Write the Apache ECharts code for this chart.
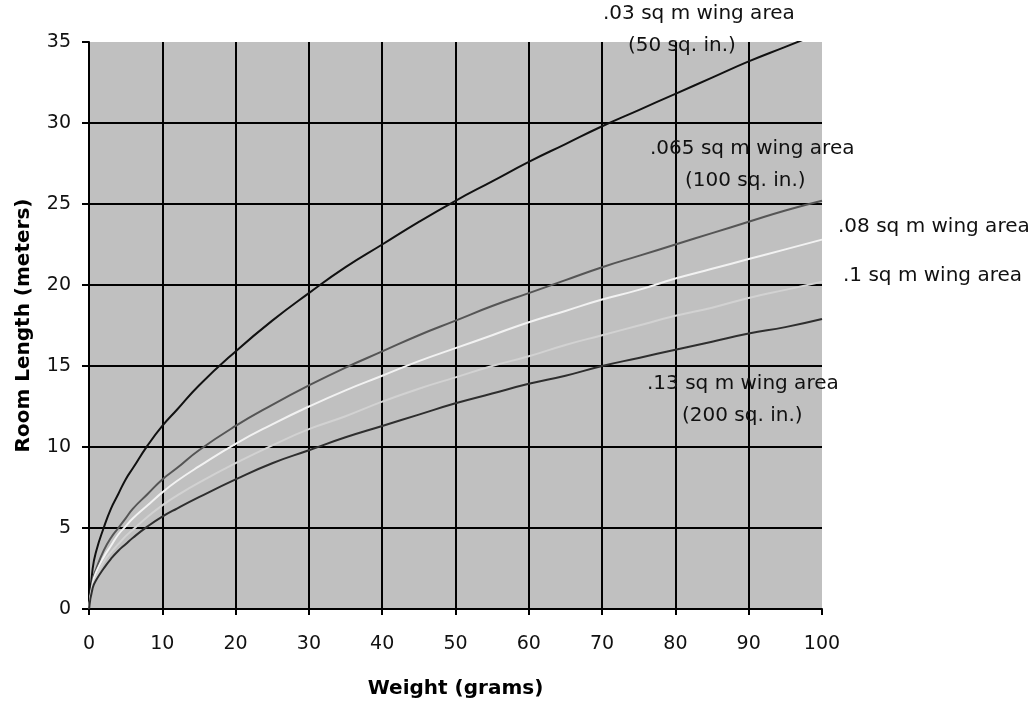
<!DOCTYPE html>
<html>
<head>
<meta charset="utf-8">
<script src="https://cdn.jsdelivr.net/npm/echarts@6/dist/echarts.min.js"></script>
<style>
html,body{margin:0;padding:0;background:#fff;}
#chart{width:1031px;height:701px;}
</style>
</head>
<body>
<div id="chart"></div>
<script>
// Weight in grams (x values)
var weights = [0, 0.5, 1, 2, 3, 4, 5, 6, 8, 10, 12, 15, 20, 25, 30, 35, 40, 45, 50, 55, 60, 65, 70, 75, 80, 85, 90, 95, 100];
// Room length (meters) per wing area
var area003 = [0, 2.5, 3.6, 5.0, 6.2, 7.1, 8.0, 8.7, 10.1, 11.3, 12.3, 13.8, 15.9, 17.8, 19.5, 21.1, 22.5, 23.9, 25.2, 26.4, 27.6, 28.7, 29.8, 30.8, 31.8, 32.8, 33.8, 34.7, 35.6];
var area0065 = [0, 1.8, 2.5, 3.6, 4.4, 5.0, 5.6, 6.2, 7.1, 8.0, 8.7, 9.8, 11.3, 12.6, 13.8, 14.9, 15.9, 16.9, 17.8, 18.7, 19.5, 20.3, 21.1, 21.8, 22.5, 23.2, 23.9, 24.6, 25.2];
var area008 = [0, 1.6, 2.3, 3.2, 3.9, 4.6, 5.1, 5.6, 6.4, 7.2, 7.9, 8.8, 10.2, 11.4, 12.5, 13.5, 14.4, 15.3, 16.1, 16.9, 17.7, 18.4, 19.1, 19.7, 20.4, 21.0, 21.6, 22.2, 22.8];
var area01 = [0, 1.4, 2.0, 2.9, 3.5, 4.0, 4.5, 4.9, 5.7, 6.4, 7.0, 7.8, 9.0, 10.1, 11.1, 11.9, 12.8, 13.6, 14.3, 15.0, 15.6, 16.3, 16.9, 17.5, 18.1, 18.6, 19.2, 19.7, 20.2];
var area013 = [0, 1.3, 1.8, 2.5, 3.1, 3.6, 4.0, 4.4, 5.1, 5.7, 6.2, 6.9, 8.0, 9.0, 9.8, 10.6, 11.3, 12.0, 12.7, 13.3, 13.9, 14.4, 15.0, 15.5, 16.0, 16.5, 17.0, 17.4, 17.9];

var seriesNames = ['.03 sq m wing area', '.065 sq m wing area', '.08 sq m wing area', '.1 sq m wing area', '.13 sq m wing area'];
var seriesData = [area003, area0065, area008, area01, area013];
var seriesColors = ['#111111', '#555555', '#f2f2f2', '#d2d2d2', '#2e2e2e'];

function pairs(ys) {
  return weights.map(function (w, i) { return [w, ys[i]]; });
}

var FONT = '"DejaVu Sans", sans-serif';

var chart = echarts.init(document.getElementById('chart'));
var option = {
  backgroundColor: '#ffffff',
  animation: false,
  grid: {
    left: 89, top: 42, width: 733, height: 567,
    containLabel: false, outerBoundsMode: 'none',
    show: true, backgroundColor: '#c0c0c0', borderWidth: 0
  },
  xAxis: {
    type: 'value', min: 0, max: 100, interval: 10,
    name: 'Weight (grams)', nameLocation: 'middle', nameGap: 70,
    nameTextStyle: { fontFamily: FONT, fontWeight: 'bold', fontSize: 20, color: '#000' },
    axisLine: { show: true, lineStyle: { color: '#000', width: 2 } },
    axisTick: { show: true, inside: false, length: 6, lineStyle: { color: '#000', width: 2 } },
    axisLabel: { fontFamily: FONT, fontSize: 19, color: '#111', margin: 26 },
    splitLine: { show: true, lineStyle: { color: ['#000','#000','#000','#000','#000','#000','#000','#000','#000','#000','rgba(0,0,0,0)'], width: 2 } }
  },
  yAxis: {
    type: 'value', min: 0, max: 35, interval: 5,
    name: 'Room Length (meters)', nameLocation: 'middle', nameGap: 55,
    nameTextStyle: { fontFamily: FONT, fontWeight: 'bold', fontSize: 20, color: '#000' },
    axisLine: { show: true, lineStyle: { color: '#000', width: 2 } },
    axisTick: { show: true, inside: false, length: 7, lineStyle: { color: '#000', width: 2 } },
    axisLabel: { fontFamily: FONT, fontSize: 19, color: '#111', margin: 18 },
    splitLine: { show: true, lineStyle: { color: ['#000','#000','#000','#000','#000','#000','#000','rgba(0,0,0,0)'], width: 2 } }
  },
  series: seriesData.map(function (d, i) {
    return {
      name: seriesNames[i], type: 'line', data: pairs(d), smooth: true,
      showSymbol: false, clip: true,
      lineStyle: { color: seriesColors[i], width: 2 },
      itemStyle: { color: seriesColors[i] },
      z: 3
    };
  }),
  graphic: [
    { type: 'text', left: 603, top: 4, style: { text: '.03 sq m wing area', font: '20px ' + FONT, fill: '#111' }, z: 10 },
    { type: 'text', left: 628, top: 36, style: { text: '(50 sq. in.)', font: '20px ' + FONT, fill: '#111' }, z: 10 },
    { type: 'text', left: 650, top: 139, style: { text: '.065 sq m wing area', font: '20px ' + FONT, fill: '#111' }, z: 10 },
    { type: 'text', left: 685, top: 171, style: { text: '(100 sq. in.)', font: '20px ' + FONT, fill: '#111' }, z: 10 },
    { type: 'text', left: 838, top: 217, style: { text: '.08 sq m wing area', font: '20px ' + FONT, fill: '#111' }, z: 10 },
    { type: 'text', left: 843, top: 266, style: { text: '.1 sq m wing area', font: '20px ' + FONT, fill: '#111' }, z: 10 },
    { type: 'text', left: 647, top: 374, style: { text: '.13 sq m wing area', font: '20px ' + FONT, fill: '#111' }, z: 10 },
    { type: 'text', left: 682, top: 406, style: { text: '(200 sq. in.)', font: '20px ' + FONT, fill: '#111' }, z: 10 }
  ]
};
chart.setOption(option);
</script>
</body>
</html>
